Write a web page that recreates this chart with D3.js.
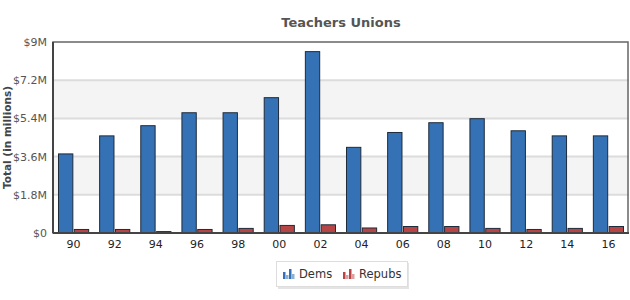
<!DOCTYPE html>
<html lang="en">
<head>
  <meta charset="UTF-8">
  <title>Teachers Unions</title>
  <script src="https://d3js.org/d3.v7.min.js"></script>
  <style>
    body { margin: 0; font-family: Verdana, "DejaVu Sans", sans-serif; background: #fff; }
  </style>
</head>
<body>
<div id="chart"></div>
<script>
const years = ["90", "92", "94", "96", "98", "00", "02", "04", "06", "08", "10", "12", "14", "16"];
const dems = [3.75, 4.6, 5.08, 5.69, 5.69, 6.4, 8.57, 4.06, 4.76, 5.22, 5.41, 4.84, 4.6, 4.6];
const repubs = [0.19, 0.19, 0.09, 0.19, 0.24, 0.38, 0.41, 0.26, 0.33, 0.33, 0.24, 0.19, 0.24, 0.33];
const yTicks = [0, 1.8, 3.6, 5.4, 7.2, 9];
const tickLabels = ["$0", "$1.8M", "$3.6M", "$5.4M", "$7.2M", "$9M"];
const series = [
  { name: "Dems", values: dems, color: "#3572b5" },
  { name: "Repubs", values: repubs, color: "#b84545" }
];

const width = 630, height = 300;
const margin = { top: 42, right: 1, bottom: 67, left: 53 };
const iw = width - margin.left - margin.right;
const ih = height - margin.top - margin.bottom;

const svg = d3.select("#chart").append("svg")
  .attr("width", width)
  .attr("height", height);

const x = d3.scaleBand().domain(years).range([0, iw]).paddingInner(0.22).paddingOuter(0.11);
const xs = d3.scaleBand().domain(series.map(s => s.name)).range([0, x.bandwidth()]).padding(0.03);
const y = d3.scaleLinear().domain([0, 9]).range([ih, 0]);

const g = svg.append("g").attr("transform", `translate(${margin.left},${margin.top})`);

// alternating bands
for (let i = 0; i < yTicks.length - 1; i++) {
  g.append("rect")
    .attr("x", 0).attr("width", iw)
    .attr("y", y(yTicks[i + 1]))
    .attr("height", y(yTicks[i]) - y(yTicks[i + 1]))
    .attr("fill", i % 2 === 1 ? "#f4f4f4" : "#fff");
}

// gridlines
g.selectAll(".grid").data(yTicks.slice(1, -1)).enter()
  .append("line")
  .attr("x1", 0).attr("x2", iw)
  .attr("y1", d => y(d)).attr("y2", d => y(d))
  .attr("stroke", "#dcdcdc").attr("stroke-width", 2);

// bars
series.forEach(s => {
  g.selectAll(null).data(s.values).enter()
    .append("rect")
    .attr("x", (d, i) => x(years[i]) + xs(s.name) + 0.5)
    .attr("y", d => y(d) + 0.5)
    .attr("width", xs.bandwidth() - 1)
    .attr("height", d => Math.max(0, ih - y(d) - 1))
    .attr("fill", s.color)
    .attr("stroke", "#1e2b3a")
    .attr("stroke-width", 1);
});

// frame
g.append("rect")
  .attr("x", 0).attr("y", 0).attr("width", iw - 1).attr("height", ih)
  .attr("fill", "none").attr("stroke", "#666").attr("stroke-width", 1.5);
g.append("line").attr("x1", 0).attr("x2", 0).attr("y1", 0).attr("y2", ih)
  .attr("stroke", "#444").attr("stroke-width", 2);
g.append("line").attr("x1", 0).attr("x2", iw).attr("y1", ih).attr("y2", ih)
  .attr("stroke", "#444").attr("stroke-width", 2);

// y axis
const yAxis = d3.axisLeft(y).tickValues(yTicks)
  .tickFormat((d, i) => tickLabels[i]).tickSize(0).tickPadding(6);
g.append("g").call(yAxis)
  .call(a => a.select(".domain").remove())
  .selectAll("text")
  .attr("font-family", "Verdana, 'DejaVu Sans', sans-serif")
  .attr("font-size", 11).attr("fill", "#555");

// x axis
const xAxis = d3.axisBottom(x).tickSize(0).tickPadding(7);
g.append("g").attr("transform", `translate(0,${ih})`).call(xAxis)
  .call(a => a.select(".domain").remove())
  .selectAll("text")
  .attr("font-family", "Verdana, 'DejaVu Sans', sans-serif")
  .attr("font-size", 11).attr("fill", "#222");

// title
svg.append("text")
  .attr("x", 341).attr("y", 27)
  .attr("text-anchor", "middle")
  .attr("font-size", 13).attr("font-weight", "bold")
  .attr("fill", "#555")
  .text("Teachers Unions");

// y title
svg.append("text")
  .attr("transform", `translate(11,${margin.top + ih / 2}) rotate(-90)`)
  .attr("text-anchor", "middle")
  .attr("font-size", 10.5).attr("font-weight", "bold")
  .attr("fill", "#444")
  .text("Total (in millions)");

// legend
const lg = svg.append("g").attr("transform", "translate(276,261)");
lg.append("rect").attr("x", 2).attr("y", 2).attr("width", 131).attr("height", 26)
  .attr("fill", "#e4e4e4");
lg.append("rect").attr("x", 0.5).attr("y", 0.5).attr("width", 131).attr("height", 25)
  .attr("fill", "#fff").attr("stroke", "#ddd");
const items = [{ s: series[0], x: 7, light: "#8fb0d6" }, { s: series[1], x: 67, light: "#dba0a0" }];
const iconBars = [[0, 3, 7], [3, 3, 4], [6, 3, 10], [9, 3, 5]];
items.forEach(it => {
  const ig = lg.append("g").attr("transform", `translate(${it.x},6)`);
  ig.selectAll("rect").data(iconBars).enter().append("rect")
    .attr("x", d => d[0]).attr("width", d => d[1] - 0.5)
    .attr("y", d => 12 - d[2]).attr("height", d => d[2])
    .attr("fill", (d, i) => i % 2 ? it.light : it.s.color);
  lg.append("text").attr("x", it.x + 16).attr("y", 17)
    .attr("font-size", 11.5).attr("fill", "#333")
    .text(it.s.name);
});
</script>
</body>
</html>
